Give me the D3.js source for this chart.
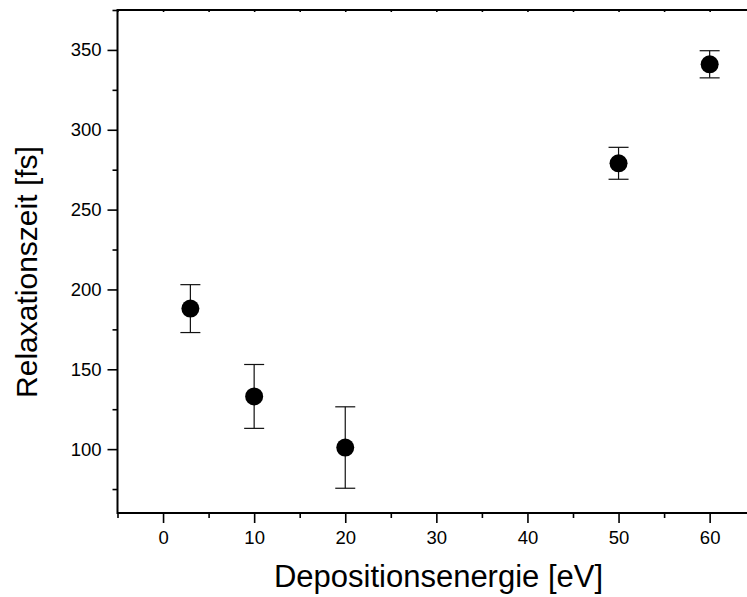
<!DOCTYPE html>
<html>
<head>
<meta charset="utf-8">
<script src="https://cdn.jsdelivr.net/npm/d3@7"></script>
<style>
  html, body { margin: 0; padding: 0; background: #fff; }
  svg { display: block; font-family: "Liberation Sans", Arial, sans-serif; }
</style>
</head>
<body>
<svg id="chart" width="747" height="597"></svg>
<script>
// Deposition energy (eV) and relaxation time (fs) with symmetric errors
const energies = [3, 10, 20, 50, 60];
const relaxTimes = [188, 133, 101, 279, 341];
const errors = [15, 20, 25.5, 10, 8.5];

const xMajorTicks = [0, 10, 20, 30, 40, 50, 60];
const xMinorTicks = [-5, 5, 15, 25, 35, 45, 55, 65];
const yMajorTicks = [100, 150, 200, 250, 300, 350];
const yMinorTicks = [75, 125, 175, 225, 275, 325, 375];

const xTitle = "Depositionsenergie [eV]";
const yTitle = "Relaxationszeit [fs]";

const svg = d3.select("#chart");
const plotLeft = 117.5, plotTop = 10, plotBottom = 513;
const pxPerUnit = 9.11;

const x = d3.scaleLinear().domain([-5, 65]).range([plotLeft, plotLeft + 70 * pxPerUnit]);
const y = d3.scaleLinear().domain([60, 375]).range([plotBottom, plotTop]);

// Bottom axis: major labelled ticks plus minor ticks
const gx = svg.append("g").attr("transform", `translate(0,${plotBottom})`);
gx.call(d3.axisBottom(x).tickValues(xMajorTicks).tickSize(10).tickPadding(8).tickFormat(d3.format("d")));
gx.append("g").call(d3.axisBottom(x).tickValues(xMinorTicks).tickSize(5).tickFormat(""));

// Left axis
const gy = svg.append("g").attr("transform", `translate(${plotLeft},0)`);
gy.call(d3.axisLeft(y).tickValues(yMajorTicks).tickSize(10).tickPadding(6).tickFormat(d3.format("d")));
gy.append("g").call(d3.axisLeft(y).tickValues(yMinorTicks).tickSize(5).tickFormat(""));

// Top axis: small mirrored tick marks only
const gt = svg.append("g").attr("transform", `translate(0,${plotTop})`);
gt.call(d3.axisBottom(x).tickValues(xMinorTicks.concat(xMajorTicks)).tickSize(2).tickFormat(""));

svg.selectAll(".domain").remove();
svg.selectAll(".tick line").attr("stroke", "#000").attr("stroke-width", 1.6);
svg.selectAll(".tick text").attr("fill", "#000").style("font-size", "18.5px")
  .style("font-family", '"Liberation Sans", Arial, sans-serif');

// Frame lines
const xEnd = x.range()[1];
svg.append("line").attr("x1", plotLeft).attr("x2", xEnd).attr("y1", plotBottom).attr("y2", plotBottom)
  .attr("stroke", "#000").attr("stroke-width", 2);
svg.append("line").attr("x1", plotLeft).attr("x2", xEnd).attr("y1", plotTop).attr("y2", plotTop)
  .attr("stroke", "#000").attr("stroke-width", 2);
svg.append("line").attr("x1", plotLeft).attr("x2", plotLeft).attr("y1", plotTop - 1).attr("y2", plotBottom + 1)
  .attr("stroke", "#000").attr("stroke-width", 2);

// Data with error bars
const data = energies.map((e, i) => ({ e, t: relaxTimes[i], err: errors[i] }));
const capHalf = 10;
const pts = svg.append("g");
const eb = pts.selectAll("g.eb").data(data).join("g").attr("class", "eb")
  .attr("stroke", "#111").attr("stroke-width", 1.2);
eb.append("line")
  .attr("x1", d => x(d.e)).attr("x2", d => x(d.e))
  .attr("y1", d => y(d.t + d.err)).attr("y2", d => y(d.t - d.err));
eb.append("line")
  .attr("x1", d => x(d.e) - capHalf).attr("x2", d => x(d.e) + capHalf)
  .attr("y1", d => y(d.t + d.err)).attr("y2", d => y(d.t + d.err));
eb.append("line")
  .attr("x1", d => x(d.e) - capHalf).attr("x2", d => x(d.e) + capHalf)
  .attr("y1", d => y(d.t - d.err)).attr("y2", d => y(d.t - d.err));
pts.selectAll("circle").data(data).join("circle")
  .attr("cx", d => x(d.e)).attr("cy", d => y(d.t)).attr("r", 9).attr("fill", "#000");

// Axis titles
svg.append("text").attr("x", 438.5).attr("y", 587).attr("text-anchor", "middle")
  .style("font-size", "31px").attr("fill", "#000").text(xTitle);
svg.append("text").attr("transform", `translate(37,272) rotate(-90)`)
  .attr("text-anchor", "middle").style("font-size", "30px").attr("fill", "#000").text(yTitle);
</script>
</body>
</html>
